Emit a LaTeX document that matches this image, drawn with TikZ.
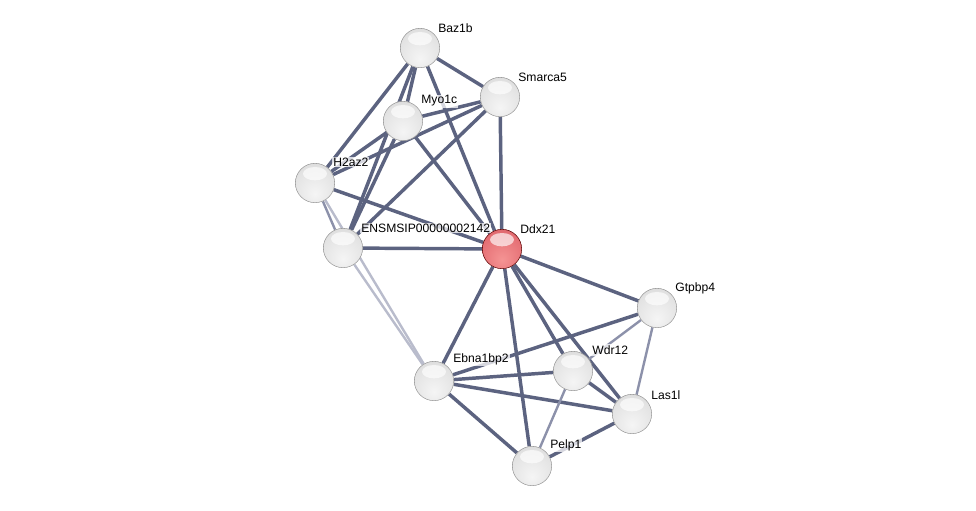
\documentclass[tikz,border=0pt]{standalone}
\usepackage{fontspec}
\setmainfont{Liberation Sans}
\usetikzlibrary{backgrounds}
\definecolor{edgedark}{RGB}{92,99,128}
\definecolor{edgemid}{RGB}{140,145,170}
\definecolor{edgelight}{RGB}{185,188,204}
\pgfdeclareradialshading{greyball}{\pgfpoint{0bp}{-14bp}}{%
  rgb(0bp)=(0.96,0.96,0.96); rgb(28bp)=(0.89,0.89,0.89);
  rgb(50bp)=(0.80,0.80,0.80); rgb(62bp)=(0.72,0.72,0.72);
  rgb(80bp)=(0.68,0.68,0.68)}
\pgfdeclareradialshading{redball}{\pgfpoint{0bp}{-14bp}}{%
  rgb(0bp)=(0.96,0.58,0.58); rgb(28bp)=(0.90,0.44,0.46);
  rgb(50bp)=(0.80,0.32,0.35); rgb(62bp)=(0.72,0.24,0.28);
  rgb(80bp)=(0.68,0.22,0.26)}
\tikzset{
  prot/.style={circle,minimum size=29.5pt,inner sep=0pt,draw=black!40,line width=0.4pt,shading=greyball,
    path picture={\fill[white,fill opacity=0.65] ([yshift=7pt]path picture bounding box.center) ellipse [x radius=9pt,y radius=5pt];}},
  hub/.style={prot,shading=redball,draw=red!35!black},
  lbl/.style={anchor=west,font=\fontsize{9.1}{11}\selectfont,fill=white,fill opacity=0.75,text opacity=1,inner sep=0.8pt},
  link/.style={draw=edgedark,line width=2.6pt},
  linkmid/.style={draw=edgemid,line width=1.8pt},
  linklight/.style={draw=edgelight,line width=1.8pt}
}

\begin{document}
\begin{tikzpicture}[x=0.75pt,y=-0.75pt]
\useasboundingbox (0,0) rectangle (976,511);
% proteins
\node[prot] (baz1b) at (420,48) {};
\node[prot] (smarca5) at (500,97) {};
\node[prot] (myo1c) at (403,121) {};
\node[prot] (h2az2) at (315,183) {};
\node[prot] (ensmsip) at (343,248) {};
\node[hub] (ddx21) at (502,249) {};
\node[prot] (gtpbp4) at (657,308) {};
\node[prot] (ebna1bp2) at (434,381) {};
\node[prot] (wdr12) at (573,371) {};
\node[prot] (las1l) at (632,414) {};
\node[prot] (pelp1) at (532,466) {};
% labels
\node[lbl] (baz1b-l) at (437,28) {Baz1b};
\node[lbl] (smarca5-l) at (517,77) {Smarca5};
\node[lbl] (myo1c-l) at (420,101) {Myo1c};
\node[lbl] (h2az2-l) at (332,162) {H2az2};
\node[lbl] (ensmsip-l) at (360,228) {ENSMSIP00000002142};
\node[lbl] (ddx21-l) at (519,229) {Ddx21};
\node[lbl] (gtpbp4-l) at (674,288) {Gtpbp4};
\node[lbl] (ebna1bp2-l) at (452,359) {Ebna1bp2};
\node[lbl] (wdr12-l) at (591,350) {Wdr12};
\node[lbl] (las1l-l) at (650,395) {Las1l};
\node[lbl] (pelp1-l) at (549,445) {Pelp1};
% interactions
\begin{scope}[on background layer]
\draw[linklight] (h2az2) -- (ebna1bp2);
\draw[linklight] (ensmsip) -- (ebna1bp2);
\draw[linkmid] (h2az2) -- (ensmsip);
\draw[link] (baz1b) -- (smarca5);
\draw[link] (baz1b) -- (myo1c);
\draw[link] (baz1b) -- (h2az2);
\draw[link] (baz1b) -- (ensmsip);
\draw[link] (baz1b) -- (ddx21);
\draw[link] (smarca5) -- (myo1c);
\draw[link] (smarca5) -- (h2az2);
\draw[link] (smarca5) -- (ensmsip);
\draw[link] (smarca5) -- (ddx21);
\draw[link] (myo1c) -- (h2az2);
\draw[link] (myo1c) -- (ensmsip);
\draw[link] (myo1c) -- (ddx21);
\draw[link] (h2az2) -- (ddx21);
\draw[link] (ensmsip) -- (ddx21);
\draw[link] (ddx21) -- (ebna1bp2);
\draw[link] (ddx21) -- (pelp1);
\draw[link] (ddx21) -- (wdr12);
\draw[link] (ddx21) -- (las1l);
\draw[link] (ddx21) -- (gtpbp4);
\draw[link] (gtpbp4) -- (ebna1bp2);
\draw[linkmid] (gtpbp4) -- (wdr12);
\draw[linkmid] (gtpbp4) -- (las1l);
\draw[link] (ebna1bp2) -- (wdr12);
\draw[link] (ebna1bp2) -- (las1l);
\draw[link] (ebna1bp2) -- (pelp1);
\draw[link] (wdr12) -- (las1l);
\draw[linkmid] (wdr12) -- (pelp1);
\draw[link] (pelp1) -- (las1l);
\end{scope}
\end{tikzpicture}
\end{document}
